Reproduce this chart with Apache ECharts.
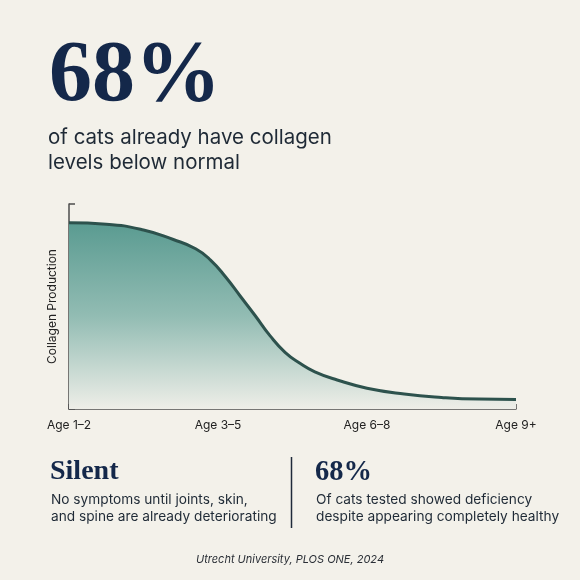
<!DOCTYPE html>
<html>
<head>
<meta charset="utf-8">
<script src="https://cdn.jsdelivr.net/npm/echarts@6/dist/echarts.min.js"></script>
<style>
html,body{margin:0;padding:0;background:#f3f1ea;}
#c{width:580px;height:580px;}
</style>
</head>
<body>
<div id="c"></div>
<script>
// ---- data ----
const xTickLabels = ['Age 1\u20132', 'Age 3\u20135', 'Age 6\u20138', 'Age 9+'];
const curveX = [0, 0.25, 0.5, 0.7, 0.85, 0.95, 1.05, 1.15, 1.25, 1.35, 1.45, 1.55, 1.65, 1.8, 2.0, 2.25, 2.5, 2.75, 3.0];
const curveY = [5.45, 5.41, 5.24, 4.96, 4.69, 4.36, 3.87, 3.30, 2.73, 2.14, 1.66, 1.34, 1.09, 0.85, 0.61, 0.44, 0.34, 0.29, 0.28];
const headline = '68%';
const subtitleLines = ['of cats already have collagen', 'levels below normal'];
const leftStat = 'Silent';
const leftText = ['No symptoms until joints, skin,', 'and spine are already deteriorating'];
const rightStat = '68%';
const rightText = ['Of cats tested showed deficiency', 'despite appearing completely healthy'];
const source = 'Utrecht University, PLOS ONE, 2024';
const yAxisName = 'Collagen Production';

const curve = curveX.map((x, i) => [x, curveY[i]]);

const navy = '#14284a';
const body = '#1f2a36';
const sans = 'Inter, "Liberation Sans", sans-serif';
const serif = '"Liberation Serif", "DejaVu Serif", serif';

const chart = echarts.init(document.getElementById('c'), null, {renderer: 'canvas'});

function txt(text, x, y, size, font, weight, color, align, style) {
  return {
    type: 'text', x: x, y: y, z: 10,
    style: {
      text: text, fontSize: size, fontFamily: font, fontWeight: weight || 'normal',
      fontStyle: style || 'normal',
      fill: color, align: align || 'left', verticalAlign: 'middle'
    }
  };
}

const graphics = [
  txt(headline, 49, 78, 86, serif, 'bold', navy),
  txt(subtitleLines[0], 48, 137.5, 20.5, sans, 'normal', body),
  txt(subtitleLines[1], 48, 162.5, 20.5, sans, 'normal', body),
  txt(leftStat, 50, 471.5, 28, serif, 'bold', navy),
  txt(leftText[0], 51, 500, 13.7, sans, 'normal', body),
  txt(leftText[1], 51, 516.5, 13.7, sans, 'normal', body),
  txt(rightStat, 315, 472.5, 28.5, serif, 'bold', navy),
  txt(rightText[0], 316, 500, 13.7, sans, 'normal', body),
  txt(rightText[1], 316, 516.5, 13.7, sans, 'normal', body),
  txt(source, 290, 559.5, 11, sans, 'normal', '#2a2f36', 'center', 'italic'),
  {
    type: 'line', z: 10,
    shape: {x1: 291.5, y1: 457, x2: 291.5, y2: 528},
    style: {stroke: '#1f2a3a', lineWidth: 1.5}
  }
];

chart.setOption({
  backgroundColor: '#f3f1ea',
  animation: false,
  grid: {left: 69, right: 64, top: 204, bottom: 171, containLabel: false},
  xAxis: {
    type: 'value', min: 0, max: 3, interval: 1,
    axisLine: {show: true, lineStyle: {color: '#4d4d4d', width: 1.5}},
    axisTick: {show: true, inside: true, length: 5, lineStyle: {color: '#4d4d4d', width: 1.5}},
    splitLine: {show: false},
    axisLabel: {
      color: '#222', fontFamily: sans, fontSize: 12, margin: 10,
      formatter: v => xTickLabels[Math.round(v)] || ''
    }
  },
  yAxis: {
    type: 'value', min: 0, max: 6, interval: 1,
    name: yAxisName, nameLocation: 'middle', nameGap: 11, nameRotate: 90,
    nameTextStyle: {color: '#222', fontFamily: sans, fontSize: 12},
    axisLine: {show: true, lineStyle: {color: '#4d4d4d', width: 1.5}},
    axisTick: {show: true, inside: true, length: 6, lineStyle: {color: '#4d4d4d', width: 1.5}},
    splitLine: {show: false},
    axisLabel: {show: false}
  },
  series: [{
    type: 'line', data: curve, smooth: 0.5, symbol: 'none', z: 1,
    lineStyle: {color: '#2d524d', width: 3},
    areaStyle: {
      opacity: 1,
      color: new echarts.graphic.LinearGradient(0, 0, 0, 1, [
        {offset: 0, color: '#5a9b91'},
        {offset: 0.5, color: '#92bcb3'},
        {offset: 1, color: '#eeeee8'}
      ])
    }
  }],
  graphic: graphics
});
</script>
</body>
</html>
